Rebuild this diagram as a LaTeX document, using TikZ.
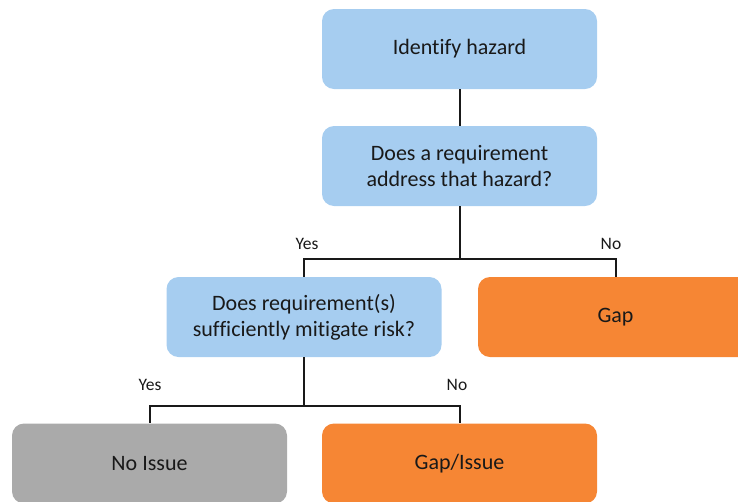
\documentclass[tikz,border=0pt]{standalone}
\usepackage{fontspec}
\setmainfont{Carlito}[Ligatures=NoCommon]
\usepackage{tikz}
\usetikzlibrary{positioning}
\definecolor{hazardblue}{RGB}{166,205,240}
\definecolor{gaporange}{RGB}{246,134,52}
\definecolor{issuegray}{RGB}{170,170,170}

\begin{document}
\begin{tikzpicture}[
    x=1pt, y=-1pt,
    box/.style={
        rectangle, rounded corners=12pt,
        minimum width=275pt, minimum height=80pt,
        align=center, text=black!90,
        font=\fontsize{22}{26}\selectfont
    },
    ask/.style={box, fill=hazardblue},
    gapbox/.style={box, fill=gaporange},
    okbox/.style={box, fill=issuegray},
    link/.style={line width=2pt, color=black!90},
    answer/.style={font=\fontsize{17.5}{20}\selectfont, text=black!90}
]
\useasboundingbox (0,0) rectangle (738,501);
\clip (0,0) rectangle (738,501);

% --- question boxes ---
\node[ask] (identify) at (459.5,49)  {Identify hazard};
\node[ask] (address)  at (459.5,166) {Does a requirement\\address that hazard?};
\node[ask] (mitigate) at (304,317)   {Does requirement(s)\\sufficiently mitigate risk?};

% --- outcomes ---
\node[gapbox] (gap)      at (615.5,317)   {Gap};
\node[okbox]  (noissue)  at (149.5,463.5) {No Issue};
\node[gapbox] (gapissue) at (459.5,463.5) {Gap/Issue};

% --- forks ---
\coordinate (fork1) at (459.5,259);
\coordinate (fork2) at (304,405.5);

\draw[link] (identify) -- (address);
\draw[link] (address.south) -- (fork1);
\draw[link] (fork1) -| (mitigate.north);
\draw[link] (fork1) -| (gap.north);
\draw[link] (mitigate.south) -- (fork2);
\draw[link] (fork2) -| (noissue.north);
\draw[link] (fork2) -| (gapissue.north);

% --- answers ---
\node[answer] (yes1) at (307,244) {Yes};
\node[answer] (no1)  at (611,244) {No};
\node[answer] (yes2) at (150,385) {Yes};
\node[answer] (no2)  at (457,385) {No};

\end{tikzpicture}
\end{document}
